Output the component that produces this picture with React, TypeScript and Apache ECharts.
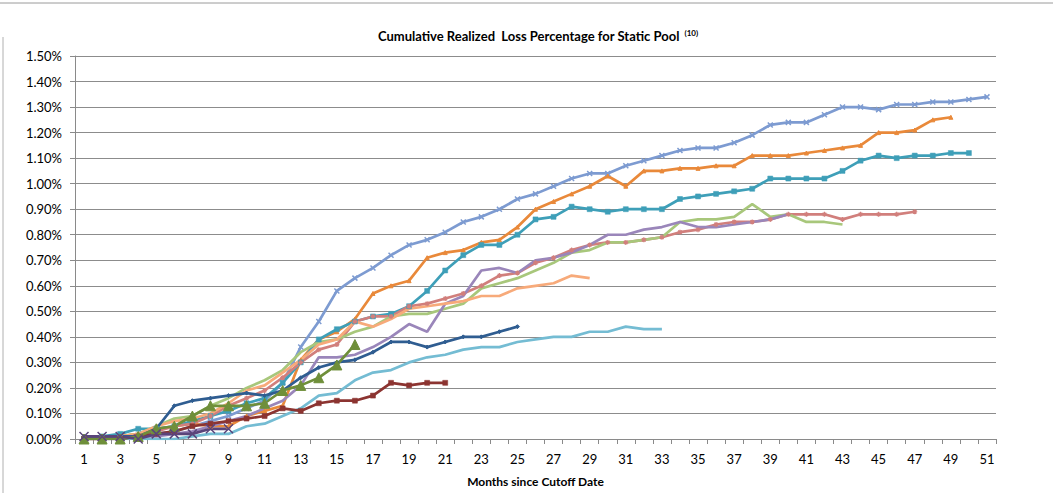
import React, { useEffect, useRef } from "react";
import * as echarts from "echarts";

const months: string[] = Array.from({ length: 51 }, (_, i) => String(i + 1));
const yTicks = [0, 0.1, 0.2, 0.3, 0.4, 0.5, 0.6, 0.7, 0.8, 0.9, 1.0, 1.1, 1.2, 1.3, 1.4, 1.5];

const blueGray = [0.00, 0.00, 0.01, 0.01, 0.02, 0.03, 0.05, 0.07, 0.09, 0.12, 0.15, 0.22, 0.36, 0.46, 0.58, 0.63, 0.67, 0.72, 0.76, 0.78, 0.81, 0.85, 0.87, 0.90, 0.94, 0.96, 0.99, 1.02, 1.04, 1.04, 1.07, 1.09, 1.11, 1.13, 1.14, 1.14, 1.16, 1.19, 1.23, 1.24, 1.24, 1.27, 1.30, 1.30, 1.29, 1.31, 1.31, 1.32, 1.32, 1.33, 1.34];
const orange = [0.00, 0.00, 0.01, 0.02, 0.04, 0.05, 0.06, 0.05, 0.05, 0.09, 0.11, 0.13, 0.31, 0.39, 0.42, 0.47, 0.57, 0.60, 0.62, 0.71, 0.73, 0.74, 0.77, 0.78, 0.83, 0.90, 0.93, 0.96, 0.99, 1.03, 0.99, 1.05, 1.05, 1.06, 1.06, 1.07, 1.07, 1.11, 1.11, 1.11, 1.12, 1.13, 1.14, 1.15, 1.20, 1.20, 1.21, 1.25, 1.26];
const teal = [0.00, 0.01, 0.02, 0.04, 0.04, 0.05, 0.07, 0.09, 0.11, 0.14, 0.16, 0.22, 0.30, 0.39, 0.43, 0.46, 0.48, 0.49, 0.52, 0.58, 0.66, 0.72, 0.76, 0.76, 0.80, 0.86, 0.87, 0.91, 0.90, 0.89, 0.90, 0.90, 0.90, 0.94, 0.95, 0.96, 0.97, 0.98, 1.02, 1.02, 1.02, 1.02, 1.05, 1.09, 1.11, 1.10, 1.11, 1.11, 1.12, 1.12];
const salmon = [0.00, 0.00, 0.01, 0.01, 0.03, 0.05, 0.06, 0.09, 0.13, 0.16, 0.19, 0.24, 0.30, 0.35, 0.37, 0.46, 0.48, 0.48, 0.52, 0.53, 0.55, 0.57, 0.60, 0.64, 0.65, 0.69, 0.71, 0.74, 0.76, 0.77, 0.77, 0.78, 0.79, 0.81, 0.82, 0.84, 0.85, 0.85, 0.86, 0.88, 0.88, 0.88, 0.86, 0.88, 0.88, 0.88, 0.89];
const lightGreen = [0.00, 0.00, 0.01, 0.02, 0.05, 0.08, 0.09, 0.13, 0.16, 0.20, 0.23, 0.27, 0.34, 0.38, 0.39, 0.42, 0.44, 0.48, 0.49, 0.49, 0.51, 0.53, 0.59, 0.61, 0.63, 0.66, 0.69, 0.73, 0.74, 0.77, 0.77, 0.78, 0.79, 0.85, 0.86, 0.86, 0.87, 0.92, 0.87, 0.88, 0.85, 0.85, 0.84];
const lavender = [0.00, 0.00, 0.00, 0.01, 0.01, 0.02, 0.03, 0.05, 0.07, 0.09, 0.12, 0.15, 0.21, 0.32, 0.32, 0.33, 0.36, 0.40, 0.45, 0.42, 0.53, 0.56, 0.66, 0.67, 0.65, 0.70, 0.71, 0.73, 0.76, 0.80, 0.80, 0.82, 0.83, 0.85, 0.83, 0.83, 0.84, 0.85, 0.86, 0.88];
const lightOrange = [0.00, 0.00, 0.01, 0.02, 0.05, 0.07, 0.08, 0.10, 0.14, 0.19, 0.21, 0.26, 0.31, 0.37, 0.39, 0.46, 0.44, 0.47, 0.51, 0.52, 0.53, 0.54, 0.56, 0.56, 0.59, 0.60, 0.61, 0.64, 0.63];
const lightBlue = [0.00, 0.00, 0.00, 0.00, 0.00, 0.00, 0.01, 0.02, 0.02, 0.05, 0.06, 0.09, 0.12, 0.17, 0.18, 0.23, 0.26, 0.27, 0.30, 0.32, 0.33, 0.35, 0.36, 0.36, 0.38, 0.39, 0.40, 0.40, 0.42, 0.42, 0.44, 0.43, 0.43];
const darkBlue = [0.01, 0.01, 0.01, 0.01, 0.04, 0.13, 0.15, 0.16, 0.17, 0.18, 0.17, 0.19, 0.24, 0.28, 0.30, 0.31, 0.34, 0.38, 0.38, 0.36, 0.38, 0.40, 0.40, 0.42, 0.44];
const darkRed = [0.00, 0.00, 0.00, 0.01, 0.02, 0.03, 0.05, 0.06, 0.07, 0.08, 0.09, 0.12, 0.11, 0.14, 0.15, 0.15, 0.17, 0.22, 0.21, 0.22, 0.22];
const green = [0.00, 0.00, 0.00, 0.01, 0.04, 0.05, 0.09, 0.13, 0.13, 0.13, 0.14, 0.19, 0.21, 0.24, 0.29, 0.37];
const darkPurple = [0.01, 0.01, 0.01, 0.00, 0.02, 0.02, 0.02, 0.04, 0.04];

const X_PATH = "path://M0,0L10,10M10,0L0,10";
const STAR_PATH = "path://M0,5L10,5M5,0L5,10M1.5,1.5L8.5,8.5M8.5,1.5L1.5,8.5";

type S = { name: string; data: number[]; color: string; symbol: string; size: number; border: number };

const seriesDefs: S[] = [
  { name: "Pool A", data: blueGray, color: "#7d9bd1", symbol: X_PATH, size: 5, border: 1.5 },
  { name: "Pool B", data: orange, color: "#e9893a", symbol: "triangle", size: 4, border: 1 },
  { name: "Pool C", data: teal, color: "#3e9fb8", symbol: "rect", size: 5, border: 0.5 },
  { name: "Pool D", data: salmon, color: "#d17f7c", symbol: STAR_PATH, size: 5, border: 1.2 },
  { name: "Pool E", data: lightGreen, color: "#a8c77b", symbol: "none", size: 0, border: 0 },
  { name: "Pool F", data: lavender, color: "#9a86ba", symbol: "none", size: 0, border: 0 },
  { name: "Pool G", data: lightBlue, color: "#74bcd3", symbol: "none", size: 0, border: 0 },
  { name: "Pool H", data: lightOrange, color: "#f7aa7a", symbol: "none", size: 0, border: 0 },
  { name: "Pool I", data: darkBlue, color: "#2f5d91", symbol: "diamond", size: 4, border: 1 },
  { name: "Pool J", data: darkRed, color: "#8c3431", symbol: "rect", size: 5, border: 0.5 },
  { name: "Pool K", data: green, color: "#6f8f3a", symbol: "triangle", size: 10, border: 1 },
  { name: "Pool L", data: darkPurple, color: "#5a447a", symbol: X_PATH, size: 9, border: 1.5 },
];

const FONT = "Lato";

export default function App() {
  const ref = useRef<HTMLDivElement>(null);
  useEffect(() => {
    if (!ref.current) return;
    const chart = echarts.init(ref.current, undefined, { renderer: "svg" });
    chart.setOption({
      animation: false,
      backgroundColor: "#ffffff",
      title: {
        text: "{a|Cumulative Realized  Loss Percentage for Static Pool} {b|(10)}",
        left: 533,
        top: 22,
        textAlign: "center",
        textStyle: {
          rich: {
            a: { fontFamily: FONT, fontWeight: "bold", fontSize: 13, color: "#000" },
            b: { fontFamily: FONT, fontWeight: "bold", fontSize: 8, color: "#000", padding: [0, 0, 7, 0] },
          },
        },
      },
      grid: { left: 75, right: 57, top: 56, bottom: 54, containLabel: false },
      xAxis: {
        type: "category",
        data: months,
        boundaryGap: true,
        name: "Months since Cutoff Date",
        nameLocation: "middle",
        nameGap: 36,
        nameTextStyle: { fontFamily: FONT, fontWeight: "bold", fontSize: 12, color: "#000" },
        axisLine: { lineStyle: { color: "#8a8a8a", width: 1 } },
        axisTick: { show: true, interval: 0, length: 5, lineStyle: { color: "#8a8a8a" } },
        axisLabel: { interval: 1, margin: 13, fontFamily: FONT, fontSize: 13, color: "#000" },
        splitLine: { show: false },
      },
      yAxis: {
        type: "value",
        min: yTicks[0],
        max: yTicks[yTicks.length - 1],
        interval: 0.1,
        axisLine: { show: true, lineStyle: { color: "#8a8a8a", width: 1 } },
        axisTick: { show: true, length: 5, lineStyle: { color: "#8a8a8a" } },
        axisLabel: {
          margin: 13,
          fontFamily: FONT,
          fontSize: 13,
          color: "#000",
          formatter: (v: number) => v.toFixed(2) + "%",
        },
        splitLine: { show: true, lineStyle: { color: "#8c8c8c", width: 1 } },
      },
      series: seriesDefs.map((s) => ({
        name: s.name,
        type: "line",
        data: s.data,
        symbol: s.symbol,
        symbolSize: s.size,
        showSymbol: s.symbol !== "none",
        lineStyle: { color: s.color, width: 2.7 },
        itemStyle: { color: s.color, borderColor: s.color, borderWidth: s.border },
        emphasis: { disabled: true },
        z: 2,
      })),
      graphic: [
        { type: "line", shape: { x1: 0, y1: 3, x2: 1053, y2: 3 }, style: { stroke: "#9a9a9a", lineWidth: 1 } },
        { type: "line", shape: { x1: 3, y1: 37, x2: 3, y2: 493 }, style: { stroke: "#b0b0b0", lineWidth: 1 } },
      ],
    });
    return () => chart.dispose();
  }, []);
  return (
    <div
      ref={ref}
      style={{ position: "absolute", left: 0, top: 0, width: 1053, height: 493, background: "#fff" }}
    />
  );
}
